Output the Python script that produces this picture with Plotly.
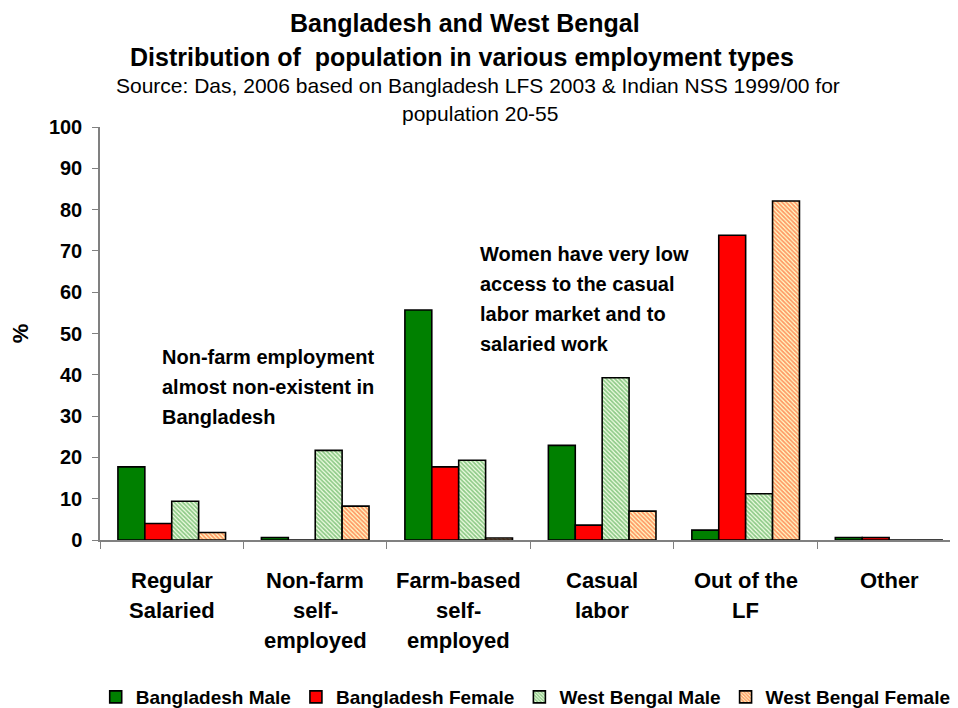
import plotly.graph_objects as go

# Data
categories = ["Regular Salaried", "Non-farm self-employed", "Farm-based self-employed",
              "Casual labor", "Out of the LF", "Other"]
category_labels = [["Regular", "Salaried"], ["Non-farm", "self-", "employed"],
                   ["Farm-based", "self-", "employed"], ["Casual", "labor"],
                   ["Out of the", "LF"], ["Other"]]
bangladesh_male = [17.7, 0.6, 55.7, 22.9, 2.4, 0.6]
bangladesh_female = [4.0, 0.0, 17.7, 3.6, 73.8, 0.6]
west_bengal_male = [9.4, 21.7, 19.3, 39.3, 11.2, 0.0]
west_bengal_female = [1.8, 8.2, 0.5, 7.0, 82.1, 0.0]

FONT = "Liberation Sans, Arial, sans-serif"
# the page body has an 8px margin, so the figure is 8px smaller and
# screen positions are shifted by 8px
OFF = 8
W, H = 950, 700
L, R, T, B = 92, 0, 119, 168
PW = W - L - R
PH = H - T - B


def px_x(x):
    return (x - OFF - L) / PW


def px_y(y):
    return (H - B - (y - OFF)) / PH


fig = go.Figure()
line = dict(color="black", width=1.6)
fig.add_trace(go.Bar(x=categories, y=bangladesh_male, name="Bangladesh Male",
                     marker=dict(color="#008000", line=line)))
fig.add_trace(go.Bar(x=categories, y=bangladesh_female, name="Bangladesh Female",
                     marker=dict(color="#ff0000", line=line)))
fig.add_trace(go.Bar(x=categories, y=west_bengal_male, name="West Bengal Male",
                     marker=dict(color="#f4ffe8", line=line,
                                 pattern=dict(shape="\\", fgcolor="#2a962a", bgcolor="#f4ffe8",
                                              size=3, solidity=0.6))))
fig.add_trace(go.Bar(x=categories, y=west_bengal_female, name="West Bengal Female",
                     marker=dict(color="#ffffcc", line=line,
                                 pattern=dict(shape="\\", fgcolor="#ff3300", bgcolor="#ffffcc",
                                              size=3, solidity=0.6))))

annotations = []

# Title and subtitle lines
for text, y, size, bold, x in [
    ("Bangladesh and West Bengal", 23, 25, True, 465),
    ("Distribution of  population in various employment types", 57, 25, True, 462),
    ("Source: Das, 2006 based on Bangladesh LFS 2003 & Indian NSS 1999/00 for", 85, 21, False, 478),
    ("population 20-55", 114, 21, False, 480),
]:
    annotations.append(dict(
        text=f"<b>{text}</b>" if bold else text, x=px_x(x), y=px_y(y),
        xref="paper", yref="paper", xanchor="center", yanchor="middle",
        showarrow=False, font=dict(family=FONT, size=size, color="black")))

# Category labels, one line at a time
for cat, lines in zip(categories, category_labels):
    for j, txt in enumerate(lines):
        annotations.append(dict(
            text=f"<b>{txt}</b>", x=cat, y=0, xref="x", yref="paper",
            xanchor="center", yanchor="middle", yshift=-(40 + 30 * j),
            showarrow=False, font=dict(family=FONT, size=22, color="black")))

# Callout texts
for lines, x0, y0 in [
    (["Non-farm employment", "almost non-existent in", "Bangladesh"], 160, 357),
    (["Women have very low", "access to the casual", "labor market and to", "salaried work"], 478, 254),
]:
    for j, txt in enumerate(lines):
        annotations.append(dict(
            text=f"<b>{txt}</b>", x=px_x(x0), y=px_y(y0 + 30 * j),
            xref="paper", yref="paper", xanchor="left", yanchor="middle",
            showarrow=False, font=dict(family=FONT, size=20, color="black")))

fig.update_layout(
    width=W, height=H,
    margin=dict(l=L, r=R, t=T, b=B, autoexpand=False),
    paper_bgcolor="white", plot_bgcolor="white",
    barmode="group", bargap=0.25, bargroupgap=0,
    font=dict(family=FONT, color="black"),
    showlegend=True,
    legend=dict(orientation="h", x=-0.005, xanchor="left", y=px_y(697), yanchor="middle",
                font=dict(family=FONT, size=19, color="black", weight="bold"),
                traceorder="normal", bgcolor="rgba(0,0,0,0)"),
    annotations=annotations,
    xaxis=dict(range=[-0.5, 5.48], showline=True, linecolor="#808080", linewidth=1.5,
               ticks="outside", tickson="boundaries", ticklen=7, tickcolor="#808080",
               showticklabels=False, showgrid=False, zeroline=False),
    yaxis=dict(range=[0, 100], dtick=10, showline=True, linecolor="#808080", linewidth=1.5,
               ticks="outside", ticklen=6, tickcolor="#808080", showgrid=False, zeroline=False,
               tickfont=dict(family=FONT, size=20, color="black", weight="bold"),
               ticklabelstandoff=6,
               title=dict(text="<b>%</b>", font=dict(family=FONT, size=22, color="black"),
                          standoff=22)),
)

fig.write_html("out.html")
